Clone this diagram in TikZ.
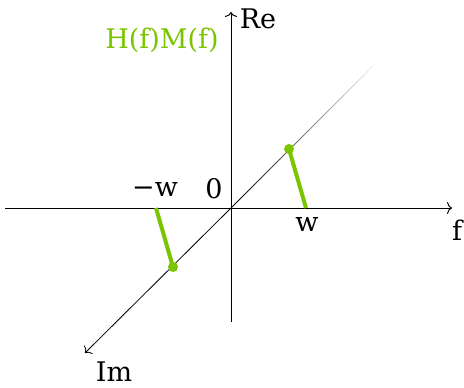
\documentclass[tikz,border=0pt]{standalone}
\usepackage{fontspec}
\setmainfont{DejaVu Serif}
\usetikzlibrary{arrows.meta,calc}
\definecolor{lime}{RGB}{122,196,0}
\begin{document}
\begin{tikzpicture}[x=1pt,y=-1pt,
  axis/.style={line width=1pt,-{To[length=5pt,width=12pt]}},
  lbl/.style={inner sep=0pt,font=\fontsize{27}{31}\selectfont},
  gseg/.style={lime,line width=4pt},
  gdot/.style={circle,fill=lime,inner sep=0pt,minimum size=10pt}]
\useasboundingbox (0,0) rectangle (464,388);
\coordinate (O) at (231,208);
\coordinate (xs) at (5,208);
\coordinate (xe) at (452,208);
\coordinate (ys) at (231,322);
\coordinate (ye) at (231,12);
\coordinate (ds) at (85,353);
\coordinate (de) at (378,61);
\draw[axis] (xs) -- (xe);
\draw[axis] (ys) -- (ye);
\draw[line width=0.8pt,-{To[length=5pt,width=12pt]}] (O) -- (ds);
\foreach \i in {0,...,29}{
  \pgfmathsetmacro{\a}{\i/30}
  \pgfmathsetmacro{\b}{(\i+1)/30}
  \pgfmathsetmacro{\c}{100-100*\i/30}
  \draw[line width=0.8pt,black!\c!white,line cap=round] ($(O)!\a!(de)$) -- ($(O)!\b!(de)$);
}
\node[gdot] (p1) at (289,149) {};
\node[gdot] (p2) at (173,267) {};
\coordinate (w1) at (306,208);
\coordinate (w2) at (156,208);
\draw[gseg] (w1) -- (p1.center);
\draw[gseg] (w2) -- (p2.center);
\node[lbl] (re) at (258,19) {Re};
\node[lbl] (f) at (457,230) {f};
\node[lbl] (im) at (114,372) {Im};
\node[lbl] (zero) at (214,189) {0};
\node[lbl] (mw) at (155,189) {−w};
\node[lbl] (w) at (307,224) {w};
\node[lbl,text=lime] (hm) at (162,40) {H(f)M(f)};
\end{tikzpicture}
\end{document}
